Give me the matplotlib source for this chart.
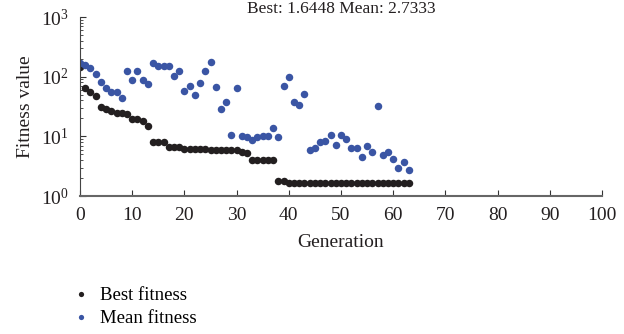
import numpy as np
import matplotlib.pyplot as plt
from matplotlib.ticker import LogLocator, NullFormatter

#Fitness data
generation = np.arange(64)
best_fit = [145, 64, 55, 47, 31, 28.7, 26.5, 24.6, 24.6, 23.6,
            19.5, 19.5, 18, 14.9, 8.0, 8.0, 8.0, 6.6, 6.6, 6.6,
            6.1, 6.1, 6.1, 6.1, 6.1, 5.8, 5.8, 5.8, 5.8, 5.8,
            5.8, 5.5, 5.3, 4.0, 4.0, 4.0, 4.0, 4.0, 1.78, 1.78,
            1.6448, 1.6448, 1.6448, 1.6448, 1.6448, 1.6448, 1.6448, 1.6448, 1.6448, 1.6448,
            1.6448, 1.6448, 1.6448, 1.6448, 1.6448, 1.6448, 1.6448, 1.6448, 1.6448, 1.6448,
            1.6448, 1.6448, 1.6448, 1.6448]
mean_fit = [169, 156, 139, 111, 81, 64, 55, 55, 44, 124,
            88, 124, 88, 75, 169, 150, 150, 150, 102, 124,
            57, 70, 49, 78, 124, 176, 67, 29, 38, 10.5,
            64, 10.3, 9.7, 8.7, 9.7, 10.1, 10.1, 13.8, 9.7, 70,
            98, 38, 33, 51, 5.9, 6.4, 8.0, 8.3, 10.5, 7.2,
            10.5, 9.0, 6.4, 6.4, 4.5, 6.9, 5.5, 32, 4.9, 5.5,
            4.2, 2.9, 3.7, 2.7333]
series_labels = ['Best fitness', 'Mean fitness']
title_txt = 'Best: 1.6448 Mean: 2.7333'

plt.rcParams['font.family'] = ['Liberation Serif', 'DejaVu Serif']

fig = plt.figure(figsize=(6.24, 3.34), dpi=100)
ax = fig.add_axes([80/624, 1-196/334, 522/624, 179/334])

ax.plot(generation, best_fit, 'o', color='#231f20', ms=5.4, mec='none', label=series_labels[0])
ax.plot(generation, mean_fit, 'o', color='#3a55a4', ms=5.4, mec='none', label=series_labels[1])

ax.set_yscale('log')
ax.set_ylim(1, 1000)
ax.set_xlim(0, 100)
ax.set_xticks(np.arange(0, 101, 10))
ax.yaxis.set_major_locator(LogLocator(base=10))
ax.yaxis.set_minor_locator(LogLocator(base=10, subs=np.arange(2, 10)))
ax.yaxis.set_minor_formatter(NullFormatter())

# use set_position
ax.spines['top'].set_color('none')
ax.spines['right'].set_color('none')
ax.spines['left'].set_color('#444444')
ax.spines['bottom'].set_color('#666666')
ax.spines['bottom'].set_linewidth(1.5)

ax.tick_params(axis='both', which='both', direction='in', colors='#333333', labelcolor='#231f20')
ax.tick_params(axis='x', which='major', length=4, pad=8, labelsize=14)
ax.tick_params(axis='y', which='major', length=4, pad=8, labelsize=14)
ax.tick_params(axis='y', which='minor', length=2)

ax.set_xlabel('Generation', fontsize=14, labelpad=7, color='#231f20')
ax.set_ylabel('Fitness value', fontsize=14, labelpad=5, color='#231f20')
ax.set_title(title_txt, fontsize=12.5, pad=0, color='#231f20')

fig.legend(loc='upper left', bbox_to_anchor=(62/624, 1-278/334), frameon=False,
           fontsize=13.5, handlelength=1.0, handletextpad=0.5, labelspacing=0.3,
           markerscale=0.7, borderpad=0)

fig.savefig('out.png', dpi=100)
